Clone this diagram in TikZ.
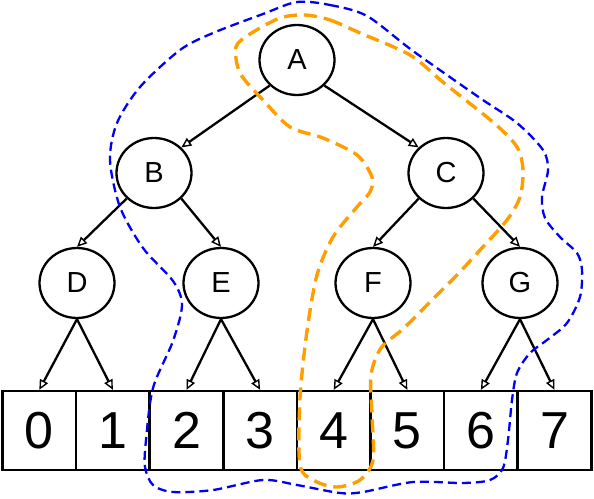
\documentclass[tikz,border=0pt]{standalone}
\usepackage{fontspec}
\setmainfont{Liberation Sans}
\usetikzlibrary{shapes.geometric,arrows.meta}
\definecolor{hullblue}{RGB}{0,0,245}
\definecolor{hullorange}{RGB}{255,158,0}

\begin{document}
\begin{tikzpicture}[x=1pt, y=-1pt, line width=2.3pt,
    vertex/.style={draw, ellipse, minimum width=75pt, minimum height=70pt, inner sep=0pt,
      font=\fontsize{29}{29}\selectfont},
    cell/.style={draw, minimum width=73.75pt, minimum height=79pt, inner sep=0pt,
      font=\fontsize{52}{52}\selectfont},
    edge/.style={-{Triangle[open, length=10pt, width=9pt, line width=1.4pt]}}]
  \useasboundingbox (0,0) rectangle (594,498);

  \node[vertex] (A) at (297,60) {A};
  \node[vertex] (B) at (154,173) {B};
  \node[vertex] (C) at (446,173) {C};
  \node[vertex] (D) at (77,283) {D};
  \node[vertex] (E) at (221,283) {E};
  \node[vertex] (F) at (373,283) {F};
  \node[vertex] (G) at (520,283) {G};

  \foreach \i in {0,...,7}
    \node[cell] (c\i) at ({2.5+73.6*(\i+0.5)}, 430.5) {\i};

  \draw[edge] (A.south west) -- (B.north east);
  \draw[edge] (A.south east) -- (C.north west);
  \draw[edge] (B.south west) -- (D.north);
  \draw[edge] (B.south east) -- (E.north);
  \draw[edge] (C.south west) -- (F.north);
  \draw[edge] (C.south east) -- (G.north);
  \foreach \p/\l/\r in {D/0/1, E/2/3, F/4/5, G/6/7} {
    \draw[edge] (\p.south) -- (c\l.north);
    \draw[edge] (\p.south) -- (c\r.north);
  }

  \draw[hullblue, line width=2.3pt, dash pattern=on 9pt off 5pt]
    plot[smooth cycle] coordinates {
      (297,2) (330,5) (367,16) (413,51) (480,98) (517,123) (543,150) (548,170)
      (542,197) (545,218) (560,237) (577,253) (582,270) (580,297) (567,323)
      (547,340) (530,353) (517,373) (512,400) (508,440) (503,468) (490,480)
      (463,483) (413,482) (363,492) (340,493) (297,485) (263,480) (213,490)
      (173,492) (153,485) (145,467) (146,440) (153,388) (173,341) (182,305)
      (173,281) (143,248) (120,207) (110,160) (117,123) (140,87) (180,50)
      (213,33) (263,14)};

  \draw[hullorange, line width=3.4pt, dash pattern=on 13pt off 7pt]
    plot[smooth cycle] coordinates {
      (305,15) (330,20) (360,33) (410,55) (444,83) (494,123) (517,147)
      (523,170) (520,197) (507,220) (481,249) (457,275) (434,298) (404,328)
      (381,348) (371,375) (372,415) (373,460) (360,480) (337,487) (315,481)
      (300,465) (300,398) (307,331) (317,275) (333,237) (357,207) (370,192)
      (372,177) (357,155) (323,138) (290,127) (263,100) (240,73) (236,47)
      (250,34) (280,18)};
\end{tikzpicture}
\end{document}
